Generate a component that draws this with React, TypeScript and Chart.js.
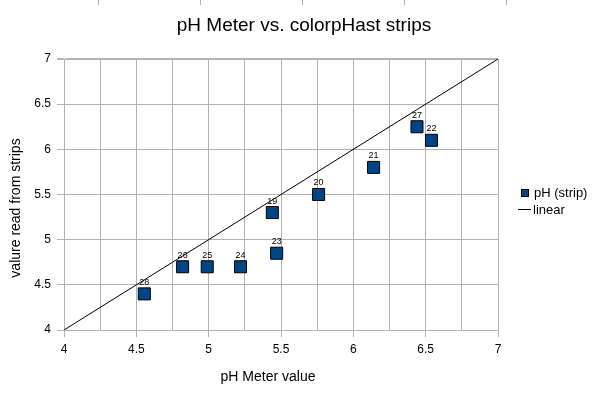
import React, { useEffect, useRef } from 'react';
import { Chart, registerables } from 'chart.js';

Chart.register(...registerables);

const chartTitle = 'pH Meter vs. colorpHast strips';
const xAxisTitle = 'pH Meter value';
const yAxisTitle = 'valure read from strips';
const seriesName = 'pH (strip)';
const lineName = 'linear';

const meterValues = [4.555, 4.82, 4.99, 5.22, 5.47, 5.44, 5.76, 6.14, 6.44, 6.54];
const stripValues = [4.4, 4.7, 4.7, 4.7, 4.85, 5.3, 5.5, 5.8, 6.25, 6.1];
const pointLabels = ['28', '26', '25', '24', '23', '19', '20', '21', '27', '22'];

const linearX = [4, 7];
const linearY = [4, 7];

const axisMin = 4;
const axisMax = 7;
const xGridStep = 0.25;
const yTickStep = 0.5;

const FONT = '"Liberation Sans", Arial, sans-serif';
const GRID = '#b3b3b3';
const BLUE = '#004586';

const decorPlugin = {
  id: 'decor',
  afterDatasetsDraw(chart: any) {
    const ctx = chart.ctx;
    const meta = chart.getDatasetMeta(0);
    ctx.save();
    ctx.font = `9px ${FONT}`;
    ctx.fillStyle = '#000';
    ctx.textAlign = 'center';
    ctx.textBaseline = 'bottom';
    meta.data.forEach((el: any, i: number) => {
      ctx.fillText(pointLabels[i], el.x, el.y - 7);
    });
    ctx.restore();
  },
  afterDraw(chart: any) {
    const ctx = chart.ctx;
    ctx.save();
    // spreadsheet cell marks at top
    ctx.strokeStyle = GRID;
    ctx.lineWidth = 1;
    [98.5, 200.5, 302.5, 404.5, 506.5].forEach((x) => {
      ctx.beginPath();
      ctx.moveTo(x, 0);
      ctx.lineTo(x, 5);
      ctx.stroke();
    });
    // title
    ctx.fillStyle = '#000';
    ctx.textAlign = 'center';
    ctx.textBaseline = 'middle';
    ctx.font = `19px ${FONT}`;
    ctx.fillText(chartTitle, 304, 26);
    // x axis title
    ctx.font = `14px ${FONT}`;
    ctx.fillText(xAxisTitle, 268, 377);
    // y axis title
    ctx.save();
    ctx.translate(16, 208);
    ctx.rotate(-Math.PI / 2);
    ctx.fillText(yAxisTitle, 0, 0);
    ctx.restore();
    // legend
    ctx.font = `13px ${FONT}`;
    ctx.textAlign = 'left';
    ctx.fillStyle = BLUE;
    ctx.fillRect(522, 190, 6, 6);
    ctx.strokeStyle = '#000';
    ctx.lineWidth = 1;
    ctx.strokeRect(521.5, 189.5, 7, 7);
    ctx.fillStyle = '#000';
    ctx.fillText(seriesName, 534, 193);
    ctx.beginPath();
    ctx.moveTo(518, 209.5);
    ctx.lineTo(531, 209.5);
    ctx.stroke();
    ctx.fillText(lineName, 533, 210);
    ctx.restore();
  },
};

export default function App() {
  const ref = useRef<HTMLCanvasElement>(null);
  useEffect(() => {
    document.body.style.margin = '0';
    const canvas = ref.current!;
    const chart = new Chart(canvas, {
      type: 'scatter',
      data: {
        datasets: [
          {
            label: seriesName,
            data: meterValues.map((x, i) => ({ x, y: stripValues[i] })),
            pointStyle: 'rect',
            pointRadius: 8.5,
            pointBackgroundColor: BLUE,
            pointBorderColor: '#000',
            pointBorderWidth: 1,
            showLine: false,
          },
          {
            label: lineName,
            data: linearX.map((x, i) => ({ x, y: linearY[i] })),
            showLine: true,
            borderColor: '#000',
            borderWidth: 1,
            pointRadius: 0,
            fill: false,
          },
        ],
      },
      options: {
        animation: false,
        responsive: false,
        maintainAspectRatio: false,
        devicePixelRatio: 1,
        layout: { padding: { top: 59, right: 99, left: 0, bottom: 0 } },
        plugins: {
          legend: { display: false },
          title: { display: false },
          tooltip: { enabled: false },
        },
        scales: {
          x: {
            type: 'linear',
            min: axisMin,
            max: axisMax,
            afterFit: (s: any) => {
              s.height = 67;
            },
            afterBuildTicks: (s: any) => {
              const t = [];
              for (let v = axisMin; v <= axisMax + 1e-9; v += xGridStep) t.push({ value: Math.round(v * 100) / 100 });
              s.ticks = t;
            },
            grid: {
              color: GRID,
              lineWidth: 1,
              tickLength: 7,
              tickColor: (c: any) => (c.tick && Math.abs((c.tick.value * 2) % 1) < 1e-9 ? GRID : 'rgba(0,0,0,0)'),
            },
            border: { color: GRID },
            ticks: {
              autoSkip: false,
              maxRotation: 0,
              padding: 5,
              color: '#000',
              font: { family: FONT, size: 12 },
              callback: (v: any) => (Math.abs((Number(v) * 2) % 1) < 1e-9 ? String(Number(v)) : ''),
            },
          },
          y: {
            type: 'linear',
            min: axisMin,
            max: axisMax,
            afterFit: (s: any) => {
              s.width = 64;
            },
            grid: {
              color: GRID,
              lineWidth: (c: any) => (c.tick && c.tick.value === axisMax ? 2 : 1),
              tickLength: 7,
              tickColor: GRID,
            },
            border: { color: GRID },
            ticks: {
              stepSize: yTickStep,
              padding: 6,
              color: '#000',
              font: { family: FONT, size: 12 },
              callback: (v: any) => String(Number(v)),
            },
          },
        },
      },
      plugins: [decorPlugin],
    });
    return () => chart.destroy();
  }, []);
  return (
    <div style={{ width: 597, height: 397 }}>
      <canvas ref={ref} width={597} height={397} style={{ display: 'block', width: 597, height: 397 }} />
    </div>
  );
}
